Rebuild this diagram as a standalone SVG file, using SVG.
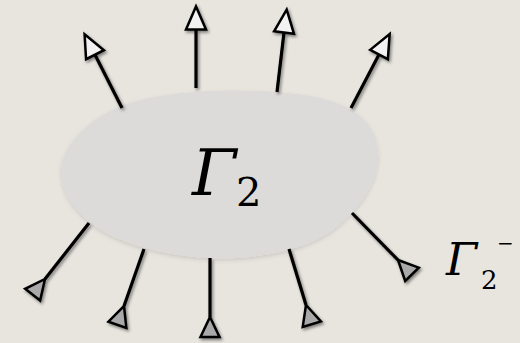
<svg xmlns="http://www.w3.org/2000/svg" width="520" height="343" viewBox="0 0 520 343">
  <style>
    .edge { stroke: #000; stroke-width: 3.2; fill: none; }
    .out { marker-end: url(#headOut); }
    .in { marker-end: url(#headIn); }
    text { fill: #000; }
    .serif { font-family: 'DejaVu Serif', serif; }
  </style>
  <defs>
    <filter id="shadow" x="-10%" y="-10%" width="130%" height="130%">
      <feDropShadow dx="1.5" dy="2" stdDeviation="1.5" flood-color="#000" flood-opacity="0.45"/>
    </filter>
    <filter id="blobShadow" x="-10%" y="-10%" width="120%" height="130%">
      <feDropShadow dx="0" dy="2" stdDeviation="2" flood-color="#000" flood-opacity="0.12"/>
    </filter>
    <marker id="headOut" markerUnits="userSpaceOnUse" markerWidth="30" markerHeight="30" viewBox="-3 -13 30 26" refX="0" refY="0" orient="auto">
      <path d="M0,-10 L23,0 L0,10 Z" fill="#f2f2f2" stroke="#000" stroke-width="2.5" stroke-linejoin="miter"/>
    </marker>
    <marker id="headIn" markerUnits="userSpaceOnUse" markerWidth="30" markerHeight="30" viewBox="-3 -13 30 26" refX="0" refY="0" orient="auto">
      <path d="M0,0 L20,-9.5 L20,9.5 Z" fill="#a9a9a9" stroke="#000" stroke-width="2.5" stroke-linejoin="miter"/>
    </marker>
  </defs>
  <rect width="520" height="343" fill="#e8e5df"/>
  <g id="region">
    <path d="M62,180 C55,150 90,115 130,103 C170,90 250,86 310,96 C350,103 375,120 378,150 C380,180 360,210 330,232 C300,252 250,260 210,258 C160,256 110,240 90,222 C70,205 65,193 62,180 Z" fill="#dcdbd9" filter="url(#blobShadow)"/>
    <text class="serif" x="192" y="195" font-size="64" font-style="italic">Γ</text>
    <text class="serif" x="236" y="206" font-size="40">2</text>
  </g>
  <g id="connectors" filter="url(#shadow)">
    <line class="edge out" x1="122" y1="108" x2="95" y2="54.7"/>
    <line class="edge out" x1="196" y1="88" x2="196" y2="29.5"/>
    <line class="edge out" x1="277" y1="92" x2="284" y2="32.5"/>
    <line class="edge out" x1="351" y1="108" x2="379" y2="54.5"/>
    <line class="edge in" x1="89" y1="223" x2="45" y2="279"/>
    <line class="edge in" x1="144" y1="249" x2="124" y2="306"/>
    <line class="edge in" x1="210" y1="258" x2="210" y2="317"/>
    <line class="edge in" x1="289" y1="249" x2="306" y2="305"/>
    <line class="edge in" x1="352" y1="213" x2="398" y2="260"/>
  </g>
  <g id="label-boundary">
    <text class="serif" x="446" y="275" font-size="45" font-style="italic">Γ</text>
    <text class="serif" x="481" y="289" font-size="26">2</text>
    <text class="serif" x="497" y="250" font-size="20">−</text>
  </g>
</svg>
